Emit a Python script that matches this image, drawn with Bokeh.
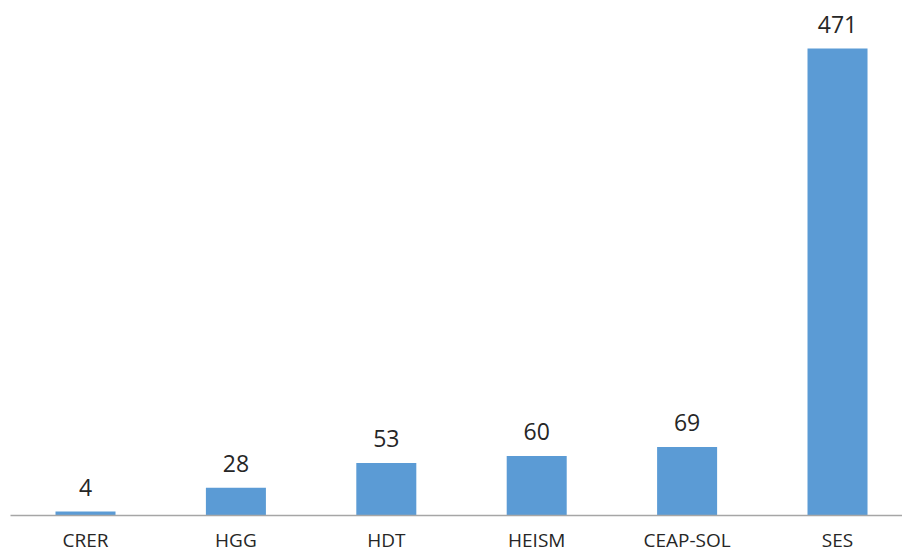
from bokeh.plotting import figure
from bokeh.models import Range1d, FixedTicker, ColumnDataSource
from bokeh.core.properties import value
from bokeh.embed import file_html
from bokeh.resources import INLINE

categories = ["CRER", "HGG", "HDT", "HEISM", "CEAP-SOL", "SES"]
counts = [4, 28, 53, 60, 69, 471]

xs = [i + 0.5 for i in range(len(categories))]
src = ColumnDataSource(dict(x=xs, top=counts, label=[str(v) for v in counts]))

p = figure(width=902, height=555, output_backend="svg", toolbar_location=None,
           x_range=Range1d(0.0013, 5.9321), y_range=Range1d(0, 511.4),
           min_border_left=10, min_border_right=0, min_border_top=8, min_border_bottom=0)

p.vbar(x="x", top="top", width=0.399, bottom=0, source=src,
       fill_color="#5B9BD5", line_color=None)

p.text(x="x", y="top", text="label", source=src, text_align="center",
       text_baseline="bottom", y_offset=-16, text_font=value("Open Sans"),
       text_font_size="23px", text_color="#262626")

p.xgrid.visible = False
p.ygrid.visible = False
p.yaxis.visible = False
p.outline_line_color = None

ax = p.xaxis[0]
ax.ticker = FixedTicker(ticks=xs)
ax.major_label_overrides = {x: c for x, c in zip(xs, categories)}
ax.major_tick_line_color = None
ax.minor_tick_line_color = None
ax.major_tick_out = 0
ax.major_tick_in = 0
ax.axis_line_color = "#A6A6A6"
ax.axis_line_width = 1.5
ax.major_label_standoff = 11
ax.major_label_text_font = "Open Sans"
ax.major_label_text_font_size = "19px"
ax.major_label_text_color = "#262626"

open("out.html", "w").write(file_html(p, INLINE))
